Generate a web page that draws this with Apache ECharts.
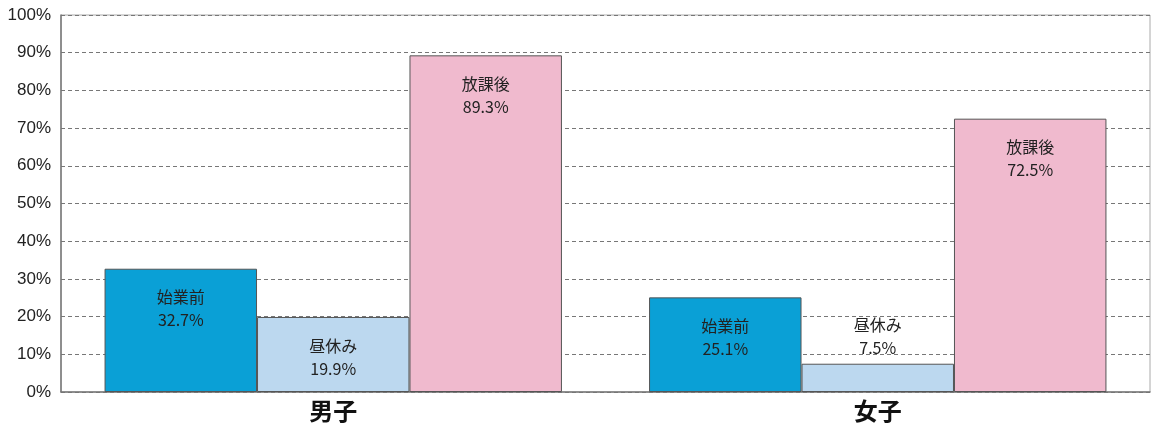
<!DOCTYPE html>
<html><head><meta charset="utf-8">
<script src="https://cdn.jsdelivr.net/npm/echarts@6/dist/echarts.min.js"></script>
<style>html,body{margin:0;padding:0;background:#fff}#c{width:1154px;height:430px}</style>
</head><body><div id="c"></div>
<script>
var categories = ['男子', '女子'];
var seriesNames = ['始業前', '昼休み', '放課後'];
var valShigyo = [32.7, 25.1];
var valHiru = [19.9, 7.5];
var valHoka = [89.3, 72.5];
var yTicks = [0, 10, 20, 30, 40, 50, 60, 70, 80, 90, 100];

var colors = ['#0aa0d6', '#bcd8ef', '#f0bace'];
var fontJP = '"Noto Sans CJK JP", "Noto Sans", sans-serif';

function mkData(vals) {
  return vals.map(function (v) {
    var d = { value: v };
    if (v < 12) {
      d.label = { position: 'top', distance: 4 };
    }
    return d;
  });
}

var allVals = [valShigyo, valHiru, valHoka];
var series = seriesNames.map(function (n, i) {
  return {
    name: n,
    type: 'bar',
    data: mkData(allVals[i]),
    barGap: '0%',
    barCategoryGap: '16%',
    itemStyle: { color: colors[i], borderColor: '#555', borderWidth: 1 },
    label: {
      show: true,
      position: 'insideTop',
      distance: 17,
      color: '#222',
      fontFamily: fontJP,
      fontSize: 16,
      lineHeight: 23,
      formatter: function (p) { return p.seriesName + '\n' + p.value.toFixed(1) + '%'; }
    }
  };
});

var chart = echarts.init(document.getElementById('c'));
chart.setOption({
  animation: false,
  backgroundColor: '#fff',
  grid: { left: 61, right: 4, top: 15, bottom: 38, show: true, borderColor: '#aaa', borderWidth: 1 },
  xAxis: {
    type: 'category',
    data: categories,
    axisTick: { show: false },
    axisLine: { lineStyle: { color: '#777', width: 1.5 } },
    axisLabel: { color: '#111', fontSize: 24, fontWeight: 'bold', fontFamily: fontJP, margin: 7 }
  },
  yAxis: {
    type: 'value',
    min: yTicks[0],
    max: yTicks[yTicks.length - 1],
    interval: 10,
    axisLine: { show: true, lineStyle: { color: '#777', width: 1.5 } },
    axisTick: { show: false },
    axisLabel: { color: '#222', fontSize: 17, fontFamily: '"Liberation Sans Narrow", Arial, sans-serif', margin: 10, formatter: '{value}%' },
    splitLine: { show: true, lineStyle: { color: '#777', type: [4, 3], width: 1 } }
  },
  series: series
});
</script>
</body></html>
